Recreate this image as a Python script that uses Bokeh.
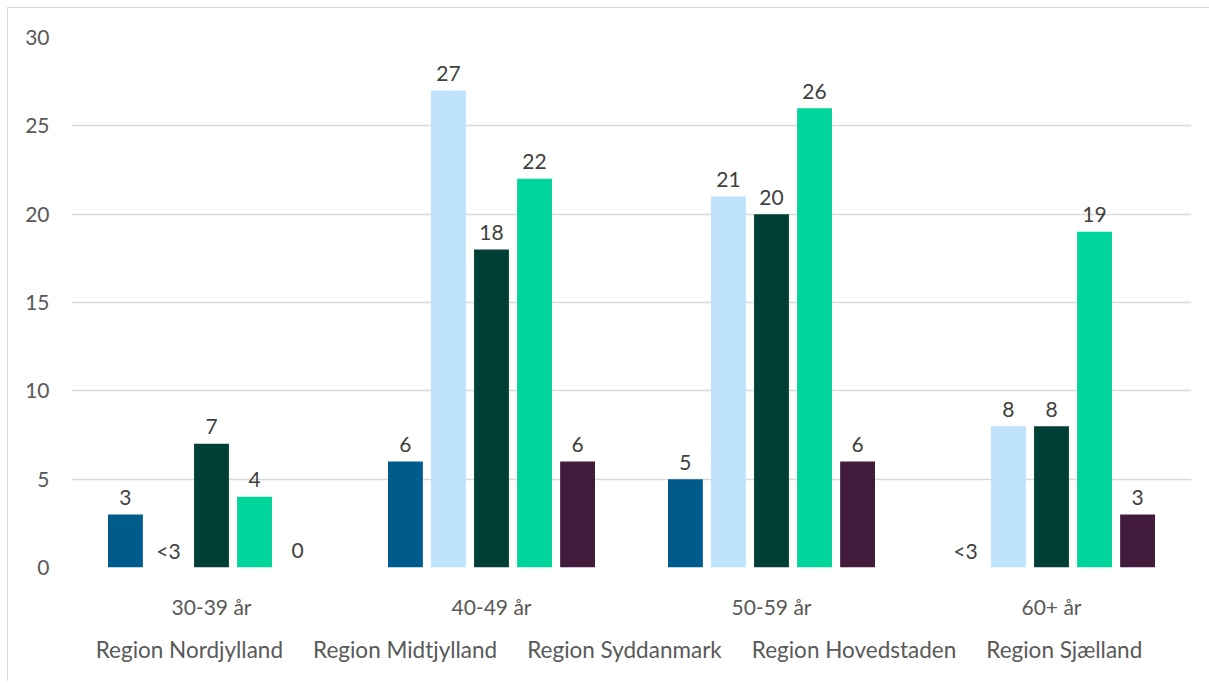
from bokeh.plotting import figure
from bokeh.layouts import column
from bokeh.models import ColumnDataSource, FactorRange, Legend, LegendItem, SingleIntervalTicker
from bokeh.transform import dodge
from bokeh.core.properties import value
from bokeh.embed import file_html
from bokeh.resources import INLINE

categories = ["30-39 år", "40-49 år", "50-59 år", "60+ år"]
regions = ["Region Nordjylland", "Region Midtjylland", "Region Syddanmark",
           "Region Hovedstaden", "Region Sjælland"]
nordjylland = [3, 6, 5, 0]
midtjylland = [0, 27, 21, 8]
syddanmark = [7, 18, 20, 8]
hovedstaden = [4, 22, 26, 19]
sjaelland = [0, 6, 6, 3]
nordjylland_labels = ["3", "6", "5", "<3"]
midtjylland_labels = ["<3", "27", "21", "8"]
syddanmark_labels = ["7", "18", "20", "8"]
hovedstaden_labels = ["4", "22", "26", "19"]
sjaelland_labels = ["0", "6", "6", "3"]

series = [nordjylland, midtjylland, syddanmark, hovedstaden, sjaelland]
labels = [nordjylland_labels, midtjylland_labels, syddanmark_labels,
          hovedstaden_labels, sjaelland_labels]
colors = ["#005B8D", "#BFE3FC", "#003F36", "#00D69B", "#431C3D"]

FONT = "Lato"

p = figure(x_range=FactorRange(factors=categories, range_padding=0),
           y_range=(0, 30), frame_width=1119, frame_height=529,
           output_backend="svg", toolbar_location=None,
           min_border_left=63, min_border_right=19,
           min_border_top=29, min_border_bottom=55)
p.styles = {"margin-left": "7px", "margin-top": "7px",
            "border-left": "1px solid #D9D9D9", "border-top": "1px solid #D9D9D9"}
p.outline_line_color = None
p.background_fill_color = "white"
p.border_fill_color = "white"

pitch = 0.1537
bw = 0.1245
for i, (vals, labs, col) in enumerate(zip(series, labels, colors)):
    src = ColumnDataSource(dict(cat=categories, val=vals, lab=labs))
    off = (i - 2) * pitch
    p.vbar(x=dodge("cat", off, range=p.x_range), top="val", width=bw,
           source=src, fill_color=col, line_color=None)
    p.text(x=dodge("cat", off, range=p.x_range), y="val", text="lab", source=src,
           text_align="center", text_baseline="alphabetic", y_offset=-17,
           text_font=value(FONT), text_font_size="21px", text_color="#404040")

p.xgrid.grid_line_color = None
p.ygrid.grid_line_color = "#D9D9D9"
p.ygrid.grid_line_width = 1.3
p.yaxis.ticker = SingleIntervalTicker(interval=5)
for ax in (p.xaxis, p.yaxis):
    ax.axis_line_color = None
    ax.major_tick_line_color = None
    ax.minor_tick_line_color = None
    ax.major_label_text_font = FONT
    ax.major_label_text_font_size = "21px"
    ax.major_label_text_color = "#595959"
p.yaxis.major_label_standoff = 16
p.xaxis.major_label_standoff = 20

# legend strip below the chart
lp = figure(frame_width=1181, frame_height=56, x_axis_type=None, y_axis_type=None,
            output_backend="svg", toolbar_location=None,
            min_border_left=20, min_border_right=0,
            min_border_top=0, min_border_bottom=4)
lp.styles = {"margin-left": "7px", "border-left": "1px solid #D9D9D9"}
lp.outline_line_color = None
lp.background_fill_color = "white"
lp.border_fill_color = "white"
items = []
for col, name in zip(colors, regions):
    r = lp.vbar(x=[], top=[], width=1, fill_color=col, line_color=None)
    items.append(LegendItem(label=name, renderers=[r]))
legend = Legend(items=items, orientation="horizontal", location="center",
                glyph_width=13, glyph_height=13, label_standoff=8, spacing=9,
                label_text_font=FONT, label_text_font_size="22.5px",
                label_text_color="#595959", border_line_color=None,
                background_fill_alpha=0, margin=0, padding=2)
lp.add_layout(legend)

layout = column(p, lp, spacing=0)
open("out.html", "w").write(file_html(layout, INLINE))
